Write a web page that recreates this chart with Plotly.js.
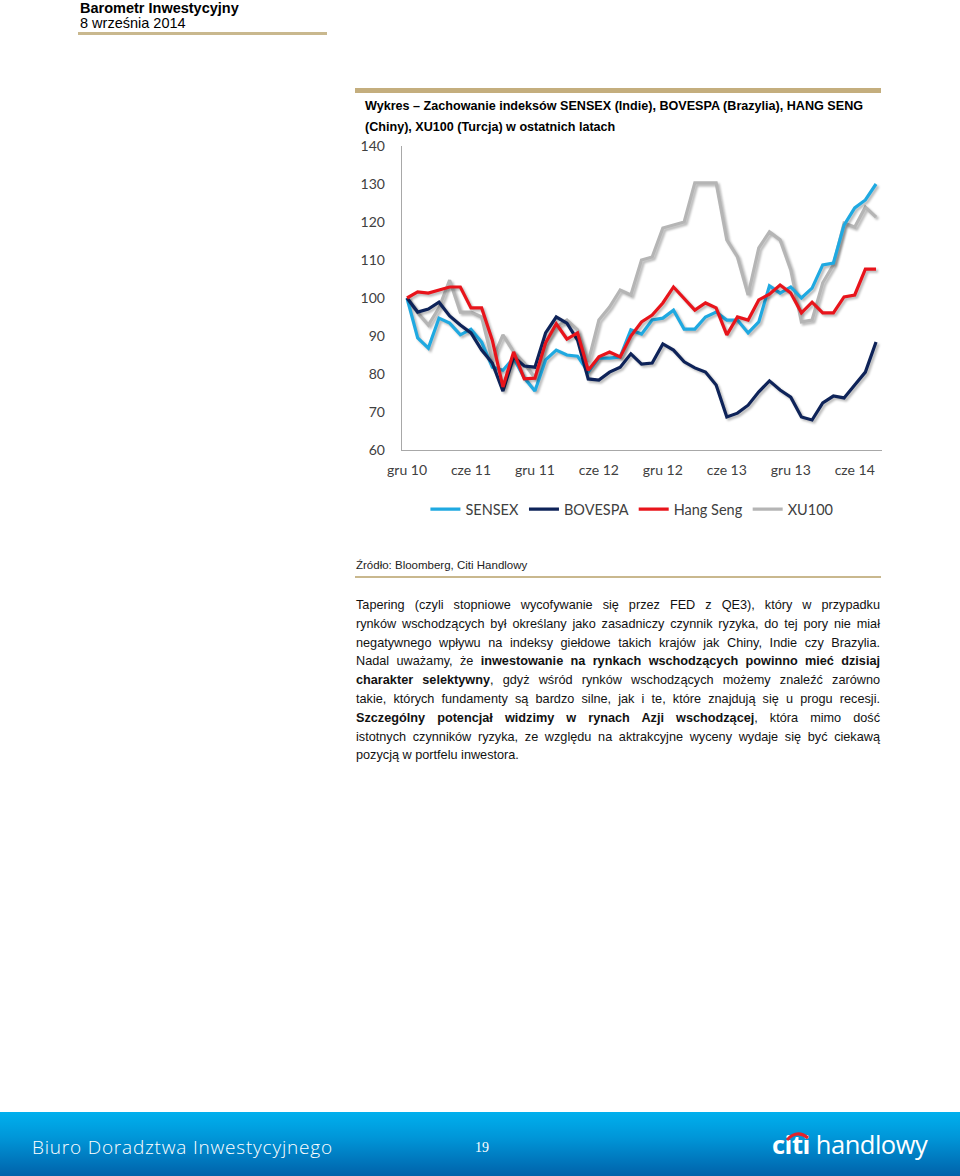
<!DOCTYPE html>
<html>
<head>
<meta charset="utf-8">
<script src="https://cdn.plot.ly/plotly-3.0.1.min.js"></script>
<style>
  html, body { margin:0; padding:0; background:#fff; }
  body { width:960px; height:1176px; position:relative; overflow:hidden; font-family:"Liberation Sans", Arial, sans-serif; color:#000; }
  .abs { position:absolute; }
  #hdr1 { left:80px; top:0px; font-weight:bold; font-size:14.5px; }
  #hdr2 { left:80px; top:15px; font-size:14.5px; }
  #hdrline { left:78px; top:32px; width:249px; height:3px; background:#C9B88E; }
  #topbar { left:355px; top:88px; width:526px; height:5px; background:#C4AE7E; }
  #title { left:365px; top:96px; font-weight:bold; font-size:12.6px; line-height:21px; width:520px; }
  #chart { left:355px; top:130px; width:540px; height:440px; }
  #src { left:356px; top:559px; font-size:11.5px; color:#222; }
  #srcline { left:355px; top:576px; width:526px; height:2px; background:#C9B88E; }
  #para { left:356px; top:596px; width:524px; font-size:12.7px; line-height:18.8px; color:#111; }
  #para div { text-align:justify; text-align-last:justify; white-space:nowrap; }
  #para div.last { text-align-last:left; }
  #footer { left:0; top:1112px; width:960px; height:64px; background:linear-gradient(to bottom, #00B0EE 0%, #0096D8 40%, #0062AA 100%); }
  #ftxt { left:32px; top:1134px; font-family:"Open Sans", sans-serif; font-weight:300; font-size:19px; color:#fff; letter-spacing:0.8px; }
  #fnum { left:475px; top:1140px; font-family:"Liberation Serif", serif; font-size:14px; color:#fff; }
  #logo { left:772px; top:1127px; font-family:"Open Sans", sans-serif; font-size:25.5px; color:#fff; letter-spacing:-0.5px; }
  #logo b { font-weight:700; }
  #chart .scatterlayer .trace path.js-line { filter: drop-shadow(2px 2px 1.2px rgba(0,0,0,0.28)); }
</style>
</head>
<body>
<div class="abs" id="hdr1">Barometr Inwestycyjny</div>
<div class="abs" id="hdr2">8 września 2014</div>
<div class="abs" id="hdrline"></div>
<div class="abs" id="topbar"></div>
<div class="abs" id="title">Wykres – Zachowanie indeksów SENSEX (Indie), BOVESPA (Brazylia), HANG SENG<br>(Chiny), XU100 (Turcja) w ostatnich latach</div>
<div class="abs" id="chart"></div>
<div class="abs" id="src">Źródło: Bloomberg, Citi Handlowy</div>
<div class="abs" id="srcline"></div>
<div class="abs" id="para">
<div>Tapering (czyli stopniowe wycofywanie się przez FED z QE3), który w przypadku</div>
<div>rynków wschodzących był określany jako zasadniczy czynnik ryzyka, do tej pory nie miał</div>
<div>negatywnego wpływu na indeksy giełdowe takich krajów jak Chiny, Indie czy Brazylia.</div>
<div>Nadal uważamy, że <b>inwestowanie na rynkach wschodzących powinno mieć dzisiaj</b></div>
<div><b>charakter selektywny</b>, gdyż wśród rynków wschodzących możemy znaleźć zarówno</div>
<div>takie, których fundamenty są bardzo silne, jak i te, które znajdują się u progu recesji.</div>
<div><b>Szczególny potencjał widzimy w rynach Azji wschodzącej</b>, która mimo dość</div>
<div>istotnych czynników ryzyka, ze względu na aktrakcyjne wyceny wydaje się być ciekawą</div>
<div class="last">pozycją w portfelu inwestora.</div>
</div>
<div class="abs" id="footer"></div>
<div class="abs" id="ftxt">Biuro Doradztwa Inwestycyjnego</div>
<div class="abs" id="fnum">19</div>
<div class="abs" id="logo"><b>citi</b> handlowy</div>
<svg class="abs" style="left:784px;top:1129px" width="28" height="14"><path d="M3,11 Q13,0 24,9" stroke="#E2232A" stroke-width="3" fill="none"/></svg>
<script>
const months = [
  "gru 10","sty 11","lut 11","mar 11","kwi 11","maj 11","cze 11","lip 11","sie 11","wrz 11","paź 11","lis 11",
  "gru 11","sty 12","lut 12","mar 12","kwi 12","maj 12","cze 12","lip 12","sie 12","wrz 12","paź 12","lis 12",
  "gru 12","sty 13","lut 13","mar 13","kwi 13","maj 13","cze 13","lip 13","sie 13","wrz 13","paź 13","lis 13",
  "gru 13","sty 14","lut 14","mar 14","kwi 14","maj 14","cze 14","lip 14","sie 14"
];
const tickLabels = ["gru 10","cze 11","gru 11","cze 12","gru 12","cze 13","gru 13","cze 14"];

const sensex = [100,89.5,86.8,94.7,93.4,90.3,91.8,88.4,81.8,81,84.2,79,75.5,83.7,86.3,85,84.7,80.5,84.2,84.2,84.5,91.6,90.5,94.2,94.7,96.8,91.8,91.8,95,96.3,94.2,94.2,90.8,93.7,103.2,101.3,102.9,100,102.6,108.7,109.2,119.2,123.7,125.8,130];
const bovespa = [100,96.3,97.1,98.9,95.3,92.9,90.8,86.3,82.9,75.5,84.5,82.1,81.8,90.8,95,93.4,88.9,78.7,78.4,80.5,81.8,85.3,82.6,82.9,87.9,86.3,83.2,81.6,80.5,77.1,68.7,69.7,71.8,75.3,78.2,75.8,73.9,68.7,67.9,72.4,74.2,73.7,77.1,80.5,88.4];
const hangseng = [100,101.6,101.3,102.1,102.9,102.9,97.4,97.4,88.9,76.6,85.8,78.7,78.9,88.2,93.2,89.2,90.8,81,84.5,85.8,84.5,90,93.7,95.5,98.7,102.9,100,96.8,98.7,97.4,90.3,95,94.2,99.5,101,103.4,101.3,96.1,98.9,96.1,96.1,100.3,100.8,107.6,107.6];
const xu100 = [100,96.1,92.9,97.4,104.7,96.3,96.3,95,83.7,90.3,85.8,82.9,78.9,88.2,92.4,94.2,91.6,83.2,94.2,97.6,102.1,100.8,110,110.8,118.4,119.2,120,130.3,130.3,130.3,115.3,110.8,100.8,113.2,117.4,115.3,107.4,93.7,94.2,104,108.7,119.7,118.7,123.9,121.3];

const names = ["SENSEX","BOVESPA","Hang Seng","XU100"];
const colors = ["#1FA9E1","#0E2359","#E8141B","#B5B5B5"];
const series = [sensex, bovespa, hangseng, xu100];

const traces = [0,1,2,3].map(i => ({
  x: months, y: series[i], name: names[i], type: "scatter", mode: "lines",
  line: {color: colors[i], width: 3.2}, legendrank: i + 1
}));
// draw XU100 beneath the others while keeping the legend order
const drawTraces = [traces[3], traces[0], traces[1], traces[2]];

const layout = {
  width: 540, height: 440,
  margin: {l: 47, r: 13, t: 16, b: 120},
  paper_bgcolor: "rgba(0,0,0,0)", plot_bgcolor: "rgba(0,0,0,0)",
  font: {family: "Lato, 'Open Sans', sans-serif", size: 14, color: "#404040"},
  showlegend: true,
  legend: {orientation: "h", x: 0.479, xanchor: "center", y: -0.195, yanchor: "middle",
           font: {size: 14.5, color: "#404040"}, itemwidth: 30, traceorder: "normal"},
  xaxis: {type: "category", range: [-0.47, 44.56], tickmode: "array", tickvals: tickLabels, ticktext: tickLabels,
          showgrid: false, zeroline: false, showline: true, linecolor: "#A8A8A8", linewidth: 1.3,
          ticks: "", ticklabelstandoff: 7, tickangle: 0, automargin: false},
  yaxis: {range: [60, 140], tickvals: [60,70,80,90,100,110,120,130,140], showgrid: false, zeroline: false,
          showline: true, linecolor: "#A8A8A8", linewidth: 1.3, ticks: "", ticklabelstandoff: 13, automargin: false}
};
Plotly.newPlot("chart", drawTraces, layout, {displayModeBar: false, staticPlot: true});
</script>
</body>
</html>
